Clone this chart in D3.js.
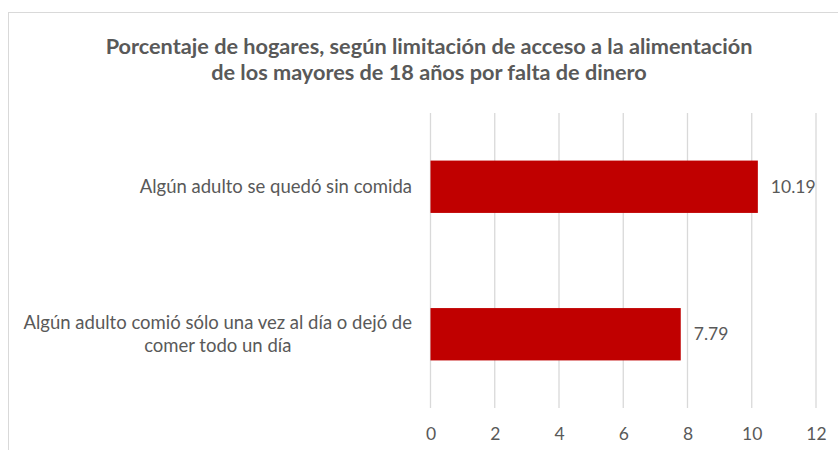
<!DOCTYPE html>
<html>
<head>
<meta charset="utf-8">
<script src="https://cdn.jsdelivr.net/npm/d3@7"></script>
<style>
  body { margin: 0; background: #fff; }
  text { font-family: Lato, "Open Sans", sans-serif; fill: #595959; }
</style>
</head>
<body>
<svg id="chart" width="838" height="450"></svg>
<script>
// data
var categories = [
    ["Algún adulto se quedó sin comida"],
    ["Algún adulto comió sólo una vez al día o dejó de", "comer todo un día"]
];
var values = [10.19, 7.79];
var tickValues = [0, 2, 4, 6, 8, 10, 12];
var titleLines = [
    "Porcentaje de hogares, según limitación de acceso a la alimentación",
    "de los mayores de 18 años por falta de dinero"
];

var svg = d3.select("#chart");

// chart frame
svg.append("rect")
    .attr("x", 8.5).attr("y", 12.5)
    .attr("width", 840).attr("height", 450)
    .attr("fill", "none")
    .attr("stroke", "#d9d9d9")
    .attr("stroke-width", 1);

// title
svg.append("g").selectAll("text")
    .data(titleLines).enter().append("text")
    .attr("x", 429)
    .attr("y", function(d, i) { return 54 + i * 26; })
    .attr("text-anchor", "middle")
    .style("font-weight", "bold")
    .style("font-size", "21.7px")
    .text(function(d) { return d; });

var x = d3.scaleLinear().domain([0, 12]).range([430.5, 816]);
var y = d3.scaleBand()
    .domain(d3.range(values.length))
    .range([113, 408])
    .paddingInner(0.645)
    .paddingOuter(0.3225);

// gridlines
svg.append("g").selectAll("line")
    .data(tickValues).enter().append("line")
    .attr("x1", function(d) { return x(d); })
    .attr("x2", function(d) { return x(d); })
    .attr("y1", 113).attr("y2", 408)
    .attr("stroke", "#d9d9d9")
    .attr("stroke-width", 1.3);

// x axis labels, no domain line
var xAxis = svg.append("g")
    .attr("transform", "translate(0,425)")
    .call(d3.axisBottom(x).tickValues(tickValues).tickSize(0).tickFormat(d3.format("d")));
xAxis.select(".domain").remove();
xAxis.selectAll("text")
    .attr("dy", "0.71em")
    .style("font-family", "Lato, 'Open Sans', sans-serif")
    .style("font-size", "17.5px")
    .attr("fill", "#595959");

// bars
svg.append("g").selectAll("rect")
    .data(values).enter().append("rect")
    .attr("x", x(0))
    .attr("y", function(d, i) { return y(i); })
    .attr("width", function(d) { return x(d) - x(0); })
    .attr("height", y.bandwidth())
    .attr("fill", "#c00000");

// value labels
svg.append("g").selectAll("text")
    .data(values).enter().append("text")
    .attr("x", function(d) { return x(d) + 13; })
    .attr("y", function(d, i) { return y(i) + y.bandwidth() / 2; })
    .attr("dy", "0.35em")
    .style("font-size", "17.5px")
    .text(function(d) { return d3.format(".2f")(d); });

// category labels: block right aligned, lines centred inside it
var labelRight = 412;
categories.forEach(function(lines, i) {
    var g = svg.append("g");
    var t = g.selectAll("text")
        .data(lines).enter().append("text")
        .style("font-size", "18.5px")
        .attr("text-anchor", "middle")
        .text(function(d) { return d; });
    var maxW = 0;
    t.each(function() { maxW = Math.max(maxW, this.getComputedTextLength()); });
    var cy = y(i) + y.bandwidth() / 2;
    var lh = 23.5;
    t.attr("x", labelRight - maxW / 2)
        .attr("y", function(d, j) { return cy + (j - (lines.length - 1) / 2) * lh; })
        .attr("dy", "0.35em");
});
</script>
</body>
</html>
